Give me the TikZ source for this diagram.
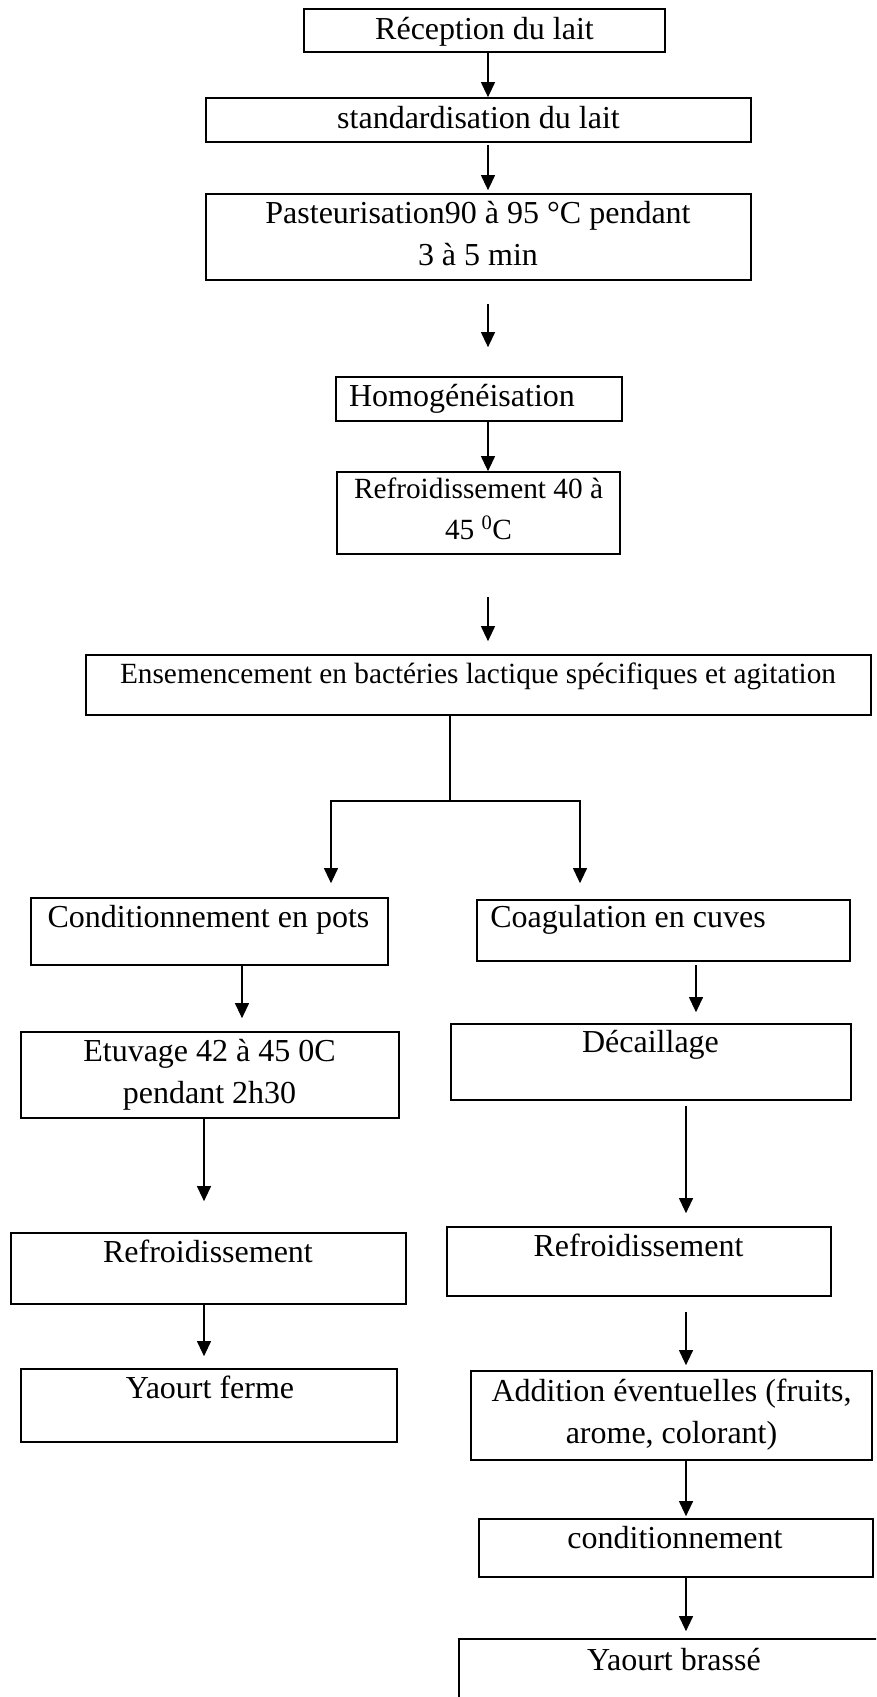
\documentclass[tikz,border=0pt]{standalone}
\usepackage{fontspec}
\setmainfont{Liberation Serif}
\usetikzlibrary{arrows.meta,fit}

% text sizes (1pt = 1 unit of the drawing)
\newcommand{\bigtxt}{\fontsize{32}{42}\selectfont}
\newcommand{\smalltxt}{\fontsize{29.3}{41}\selectfont}
% a box given by its corners: name, x1, y1, x2, y2
\newcommand{\flowbox}[5]{\node[boxst, fit={(#2,#3) (#4,#5)}] (#1) {};}
% two centred lines whose first baseline is the node's base
\newcommand{\twolines}[2]{\begin{tabular}[t]{@{}c@{}}#1\\#2\end{tabular}}

\begin{document}
\begin{tikzpicture}[x=1pt,y=-1pt,
  boxst/.style={draw, line width=1.7pt, inner sep=0pt, rectangle},
  txt/.style={anchor=base, inner sep=0pt, font=\bigtxt},
  stxt/.style={anchor=base, inner sep=0pt, font=\smalltxt},
  arr/.style={line width=1.1pt, -{Triangle[width=14pt,length=15pt]}},
  link/.style={line width=1.1pt}]

\useasboundingbox (0,0) rectangle (876,1697);
\fill[white] (0,0) rectangle (876,1697);
\clip (0,0) rectangle (876,1697);

% ---- boxes ----
\flowbox{recep}{304}{9}{665}{52}
\flowbox{stand}{206}{98}{751}{142}
\flowbox{past}{206}{194}{751}{280}
\flowbox{homog}{336}{377}{622}{421}
\flowbox{refA}{337}{472}{620}{554}
\flowbox{ens}{86}{655}{871}{715}
\flowbox{condp}{31}{898}{388}{965}
\flowbox{coag}{477}{900}{850}{961}
\flowbox{etuv}{21}{1032}{399}{1118}
\flowbox{decai}{451}{1024}{851}{1100}
\flowbox{refL}{11}{1233}{406}{1304}
\flowbox{refR}{447}{1227}{831}{1296}
\flowbox{yferme}{21}{1369}{397}{1442}
\flowbox{addit}{471}{1371}{872}{1460}
\flowbox{condt}{479}{1519}{873}{1577}
\flowbox{ybrasse}{459}{1639}{889}{1730}

% ---- texts ----
\node[txt] (t-recep) at (484.5,39) {Réception du lait};
\node[txt] (t-stand) at (478.5,128) {standardisation du lait};
\node[txt] (t-past) at (478,223) {\twolines{Pasteurisation90 à 95 °C pendant}{3 à 5 min}};
\node[txt] (t-homog) at (462,406) {Homogénéisation};
\node[stxt] (t-refA) at (478.5,498) {\twolines{Refroidissement 40 à}{45 \textsuperscript{0}C}};
\node[stxt] (t-ens) at (478,683) {Ensemencement en bactéries lactique spécifiques et agitation};
\node[txt] (t-condp) at (208.5,927) {Conditionnement en pots};
\node[txt] (t-coag) at (628,927) {Coagulation en cuves};
\node[txt] (t-etuv) at (209.5,1061) {\twolines{Etuvage 42 à 45 0C}{pendant 2h30}};
\node[txt] (t-decai) at (650.5,1052) {Décaillage};
\node[txt] (t-refL) at (208,1262) {Refroidissement};
\node[txt] (t-refR) at (638.5,1256) {Refroidissement};
\node[txt] (t-yferme) at (210,1398) {Yaourt ferme};
\node[txt] (t-addit) at (671.5,1401) {\twolines{Addition éventuelles (fruits,}{arome, colorant)}};
\node[txt] (t-condt) at (675,1548) {conditionnement};
\node[txt] (t-ybrasse) at (674,1670) {Yaourt brassé};

% ---- connector columns ----
\coordinate (cMain) at (488,0);
\coordinate (split) at (450,801);
\coordinate (cLeft) at (331,0);
\coordinate (cRight) at (580,0);
\coordinate (cPots) at (242,0);
\coordinate (cEtuv) at (204,0);
\coordinate (cCuve) at (696,0);
\coordinate (cBras) at (686,0);

% ---- connectors ----
\draw[arr] (recep.south -| cMain) -- (stand.north -| cMain);
\draw[arr, shorten <=2pt, shorten >=3pt] (stand.south -| cMain) -- (past.north -| cMain);
\draw[arr, shorten <=23pt, shorten >=29pt] (past.south -| cMain) -- (homog.north -| cMain);
\draw[arr] (homog.south -| cMain) -- (refA.north -| cMain);
\draw[arr, shorten <=42pt, shorten >=13pt] (refA.south -| cMain) -- (ens.north -| cMain);

\draw[link] (ens.south -| split) -- (split);
\draw[arr, shorten >=14pt] (split) -| (condp.north -| cLeft);
\draw[arr, shorten >=16pt] (split) -| (coag.north -| cRight);

\draw[arr, shorten >=13pt] (condp.south -| cPots) -- (etuv.north -| cPots);
\draw[arr, shorten <=3pt, shorten >=11pt] (coag.south -| cCuve) -- (decai.north -| cCuve);
\draw[arr, shorten >=31pt] (etuv.south -| cEtuv) -- (refL.north -| cEtuv);
\draw[arr, shorten <=5pt, shorten >=13pt] (decai.south -| cBras) -- (refR.north -| cBras);
\draw[arr, shorten >=12pt] (refL.south -| cEtuv) -- (yferme.north -| cEtuv);
\draw[arr, shorten <=15pt, shorten >=5pt] (refR.south -| cBras) -- (addit.north -| cBras);
\draw[arr, shorten >=2pt] (addit.south -| cBras) -- (condt.north -| cBras);
\draw[arr, shorten >=7pt] (condt.south -| cBras) -- (ybrasse.north -| cBras);

\end{tikzpicture}
\end{document}
